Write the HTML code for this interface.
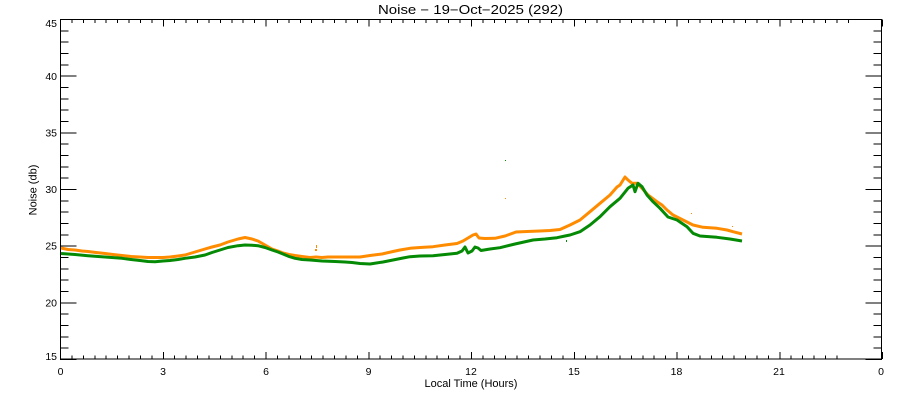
<!DOCTYPE html>
<html>
<head>
<meta charset="utf-8">
<style>
html,body{margin:0;padding:0;background:#fff;}
svg{display:block;}
text{font-family:"Liberation Sans",sans-serif;fill:#000;}
</style>
</head>
<body>
<svg width="900" height="400" viewBox="0 0 900 400" xmlns="http://www.w3.org/2000/svg">
<rect x="0" y="0" width="900" height="400" fill="#fff"/>

<!-- data -->
<polyline fill="none" stroke="#ff8c00" stroke-width="3" stroke-linejoin="round" points="61,248 68,249.5 75,250 82,251 88,251.5 96,252.5 105,253.5 113,254.5 122,255.5 131,256.5 140,257 148,257.5 155,257.5 163,257.5 170,257 178,256 185,255 190,253.5 195,252 200,250.5 205,249 212,247 220,245 228,242 238,239 245,237.5 252,239 258,241 265,245 272,249 278,251 283,253 289,254.5 295,255.5 302,256.5 310,257.5 316,257 322,257.5 328,257 335,257 343,257 352,257 360,257 370,255.5 382,254 393,251.5 400,250 410,248.3 420,247.5 433,246.7 445,245 457,243.5 463,241 468,238 473,235 476,234 479,238 485,238.5 495,238.3 505,236 516,232 527,231.5 540,231 550,230.5 560,229.5 570,225 580,220 590,211.7 600,203.3 610,195 617,187 620,185 625,177 628,180 632,183.3 637,183.3 642,188.3 648,195 657,201.7 662,205 667,210 673,215 683,220 693,225 703,227.3 717,228.3 727,230 733,231.7 742,234"/>
<polyline fill="none" stroke="#058a05" stroke-width="3" stroke-linejoin="round" points="61,253.5 68,254 75,254.5 88,255.7 105,257 122,258.3 131,259.5 140,260.5 148,261.5 155,261.7 163,261 170,260.5 178,259.5 185,258.3 195,257 205,255 212,252.5 220,250 228,247.5 238,245.7 245,245 252,245.3 258,245.7 265,247.5 272,250 278,252 283,254 289,256.5 295,258.3 302,259.5 310,260 322,261 335,261.5 345,262 352,262.5 360,263.5 370,264 383,262 393,260 403,258 410,256.7 420,256 433,255.7 445,254.5 457,253.3 462,251 465,247 468,253 472,251 475,247 478,248 481,250.5 490,249 500,247.7 515,244 533,240 545,239 557,237.7 565,236 570,235 580,231.7 590,225 600,216.7 610,206.7 620,198.3 628,188.3 633,185 635,191.7 638,183.3 642,186.7 647,195 653,201.7 660,208.3 668,217 677,220 687,226.7 693,233.3 700,236 717,237.3 730,239 742,241"/>
<!-- outliers -->
<rect x="505" y="160" width="1" height="1" fill="#058a05"/>
<rect x="505" y="198" width="1" height="1" fill="#ff8c00"/>
<rect x="316" y="245" width="1" height="3" fill="#ff8c00"/>
<rect x="315" y="249" width="2" height="2" fill="#ff8c00"/>
<rect x="566" y="240" width="1" height="2" fill="#058a05"/>
<rect x="691" y="213" width="1" height="1" fill="#ff8c00"/>
<rect x="732" y="226" width="1" height="1" fill="#ff8c00"/>

<!-- axes box -->
<rect x="60.5" y="19.5" width="821" height="339.5" fill="none" stroke="#000" stroke-width="1" shape-rendering="crispEdges"/>

<g stroke="#000" stroke-width="1" fill="none" shape-rendering="crispEdges">
<!-- bottom minor ticks -->
<path d="M60.5,359 v-3.5 m11.41667,3.5 v-3.5 m11.41667,3.5 v-3.5 m11.41667,3.5 v-3.5 m11.41667,3.5 v-3.5 m11.41667,3.5 v-3.5 m11.41667,3.5 v-3.5 m11.41667,3.5 v-3.5 m11.41667,3.5 v-3.5 m11.41667,3.5 v-3.5 m11.41667,3.5 v-3.5 m11.41667,3.5 v-3.5 m11.41667,3.5 v-3.5 m11.41667,3.5 v-3.5 m11.41667,3.5 v-3.5 m11.41667,3.5 v-3.5 m11.41667,3.5 v-3.5 m11.41667,3.5 v-3.5 m11.41667,3.5 v-3.5 m11.41667,3.5 v-3.5 m11.41667,3.5 v-3.5 m11.41667,3.5 v-3.5 m11.41667,3.5 v-3.5 m11.41667,3.5 v-3.5 m11.41667,3.5 v-3.5 m11.41667,3.5 v-3.5 m11.41667,3.5 v-3.5 m11.41667,3.5 v-3.5 m11.41667,3.5 v-3.5 m11.41667,3.5 v-3.5 m11.41667,3.5 v-3.5 m11.41667,3.5 v-3.5 m11.41667,3.5 v-3.5 m11.41667,3.5 v-3.5 m11.41667,3.5 v-3.5 m11.41667,3.5 v-3.5 m11.41667,3.5 v-3.5 m11.41667,3.5 v-3.5 m11.41667,3.5 v-3.5 m11.41667,3.5 v-3.5 m11.41667,3.5 v-3.5 m11.41667,3.5 v-3.5 m11.41667,3.5 v-3.5 m11.41667,3.5 v-3.5 m11.41667,3.5 v-3.5 m11.41667,3.5 v-3.5 m11.41667,3.5 v-3.5 m11.41667,3.5 v-3.5 m11.41667,3.5 v-3.5 m11.41667,3.5 v-3.5 m11.41667,3.5 v-3.5 m11.41667,3.5 v-3.5 m11.41667,3.5 v-3.5 m11.41667,3.5 v-3.5 m11.41667,3.5 v-3.5 m11.41667,3.5 v-3.5 m11.41667,3.5 v-3.5 m11.41667,3.5 v-3.5 m11.41667,3.5 v-3.5 m11.41667,3.5 v-3.5 m11.41667,3.5 v-3.5 m11.41667,3.5 v-3.5 m11.41667,3.5 v-3.5 m11.41667,3.5 v-3.5 m11.41667,3.5 v-3.5 m11.41667,3.5 v-3.5 m11.41667,3.5 v-3.5 m11.41667,3.5 v-3.5 m11.41667,3.5 v-3.5"/>
<!-- top minor ticks -->
<path d="M60.5,19.5 v3.5 m11.41667,-3.5 v3.5 m11.41667,-3.5 v3.5 m11.41667,-3.5 v3.5 m11.41667,-3.5 v3.5 m11.41667,-3.5 v3.5 m11.41667,-3.5 v3.5 m11.41667,-3.5 v3.5 m11.41667,-3.5 v3.5 m11.41667,-3.5 v3.5 m11.41667,-3.5 v3.5 m11.41667,-3.5 v3.5 m11.41667,-3.5 v3.5 m11.41667,-3.5 v3.5 m11.41667,-3.5 v3.5 m11.41667,-3.5 v3.5 m11.41667,-3.5 v3.5 m11.41667,-3.5 v3.5 m11.41667,-3.5 v3.5 m11.41667,-3.5 v3.5 m11.41667,-3.5 v3.5 m11.41667,-3.5 v3.5 m11.41667,-3.5 v3.5 m11.41667,-3.5 v3.5 m11.41667,-3.5 v3.5 m11.41667,-3.5 v3.5 m11.41667,-3.5 v3.5 m11.41667,-3.5 v3.5 m11.41667,-3.5 v3.5 m11.41667,-3.5 v3.5 m11.41667,-3.5 v3.5 m11.41667,-3.5 v3.5 m11.41667,-3.5 v3.5 m11.41667,-3.5 v3.5 m11.41667,-3.5 v3.5 m11.41667,-3.5 v3.5 m11.41667,-3.5 v3.5 m11.41667,-3.5 v3.5 m11.41667,-3.5 v3.5 m11.41667,-3.5 v3.5 m11.41667,-3.5 v3.5 m11.41667,-3.5 v3.5 m11.41667,-3.5 v3.5 m11.41667,-3.5 v3.5 m11.41667,-3.5 v3.5 m11.41667,-3.5 v3.5 m11.41667,-3.5 v3.5 m11.41667,-3.5 v3.5 m11.41667,-3.5 v3.5 m11.41667,-3.5 v3.5 m11.41667,-3.5 v3.5 m11.41667,-3.5 v3.5 m11.41667,-3.5 v3.5 m11.41667,-3.5 v3.5 m11.41667,-3.5 v3.5 m11.41667,-3.5 v3.5 m11.41667,-3.5 v3.5 m11.41667,-3.5 v3.5 m11.41667,-3.5 v3.5 m11.41667,-3.5 v3.5 m11.41667,-3.5 v3.5 m11.41667,-3.5 v3.5 m11.41667,-3.5 v3.5 m11.41667,-3.5 v3.5 m11.41667,-3.5 v3.5 m11.41667,-3.5 v3.5 m11.41667,-3.5 v3.5 m11.41667,-3.5 v3.5 m11.41667,-3.5 v3.5 m11.41667,-3.5 v3.5"/>
<!-- bottom/top major ticks -->
<path d="M60.5,359 v-7 m102.75,7 v-7 m102.75,7 v-7 m102.75,7 v-7 m102.75,7 v-7 m102.75,7 v-7 m102.75,7 v-7 m102.75,7 v-7 m102.75,7 v-7"/>
<path d="M60.5,19.5 v7 m102.75,-7 v7 m102.75,-7 v7 m102.75,-7 v7 m102.75,-7 v7 m102.75,-7 v7 m102.75,-7 v7 m102.75,-7 v7 m102.75,-7 v7"/>
<!-- left minor ticks -->
<path d="M60,359.5 h8.5 m-8.5,-11.3333 h8.5 m-8.5,-11.3333 h8.5 m-8.5,-11.3333 h8.5 m-8.5,-11.3333 h8.5 m-8.5,-11.3333 h8.5 m-8.5,-11.3333 h8.5 m-8.5,-11.3333 h8.5 m-8.5,-11.3333 h8.5 m-8.5,-11.3333 h8.5 m-8.5,-11.3333 h8.5 m-8.5,-11.3333 h8.5 m-8.5,-11.3333 h8.5 m-8.5,-11.3333 h8.5 m-8.5,-11.3333 h8.5 m-8.5,-11.3333 h8.5 m-8.5,-11.3333 h8.5 m-8.5,-11.3333 h8.5 m-8.5,-11.3333 h8.5 m-8.5,-11.3333 h8.5 m-8.5,-11.3333 h8.5 m-8.5,-11.3333 h8.5 m-8.5,-11.3333 h8.5 m-8.5,-11.3333 h8.5 m-8.5,-11.3333 h8.5 m-8.5,-11.3333 h8.5 m-8.5,-11.3333 h8.5 m-8.5,-11.3333 h8.5 m-8.5,-11.3333 h8.5 m-8.5,-11.3333 h8.5 m-8.5,-11.3333 h8.5"/>
<!-- right minor ticks -->
<path d="M882,359.5 h-8.5 m8.5,-11.3333 h-8.5 m8.5,-11.3333 h-8.5 m8.5,-11.3333 h-8.5 m8.5,-11.3333 h-8.5 m8.5,-11.3333 h-8.5 m8.5,-11.3333 h-8.5 m8.5,-11.3333 h-8.5 m8.5,-11.3333 h-8.5 m8.5,-11.3333 h-8.5 m8.5,-11.3333 h-8.5 m8.5,-11.3333 h-8.5 m8.5,-11.3333 h-8.5 m8.5,-11.3333 h-8.5 m8.5,-11.3333 h-8.5 m8.5,-11.3333 h-8.5 m8.5,-11.3333 h-8.5 m8.5,-11.3333 h-8.5 m8.5,-11.3333 h-8.5 m8.5,-11.3333 h-8.5 m8.5,-11.3333 h-8.5 m8.5,-11.3333 h-8.5 m8.5,-11.3333 h-8.5 m8.5,-11.3333 h-8.5 m8.5,-11.3333 h-8.5 m8.5,-11.3333 h-8.5 m8.5,-11.3333 h-8.5 m8.5,-11.3333 h-8.5 m8.5,-11.3333 h-8.5 m8.5,-11.3333 h-8.5 m8.5,-11.3333 h-8.5"/>
<!-- left/right major ticks -->
<path d="M60,359.5 h16.5 m-16.5,-56.6667 h16.5 m-16.5,-56.6667 h16.5 m-16.5,-56.6667 h16.5 m-16.5,-56.6667 h16.5 m-16.5,-56.6667 h16.5 m-16.5,-56.6667 h16.5"/>
<path d="M882,359.5 h-16.5 m16.5,-56.6667 h-16.5 m16.5,-56.6667 h-16.5 m16.5,-56.6667 h-16.5 m16.5,-56.6667 h-16.5 m16.5,-56.6667 h-16.5 m16.5,-56.6667 h-16.5"/>
</g>

<!-- y tick labels -->
<g font-size="10.5" text-anchor="end">
<text x="57" y="27">45</text>
<text x="57" y="80">40</text>
<text x="57" y="136.5">35</text>
<text x="57" y="193">30</text>
<text x="57" y="249.5">25</text>
<text x="57" y="306.5">20</text>
<text x="57" y="360">15</text>
</g>

<!-- x tick labels -->
<g font-size="10.5" text-anchor="middle">
<text x="60.5" y="375">0</text>
<text x="163" y="375">3</text>
<text x="266" y="375">6</text>
<text x="368.5" y="375">9</text>
<text x="471" y="375">12</text>
<text x="574" y="375">15</text>
<text x="676.5" y="375">18</text>
<text x="779" y="375">21</text>
<text x="881" y="375">0</text>
</g>

<!-- titles -->
<text x="378" y="14" font-size="12.5" textLength="185" lengthAdjust="spacingAndGlyphs">Noise − 19−Oct−2025 (292)</text>
<text x="471" y="387" font-size="11" text-anchor="middle">Local Time (Hours)</text>
<text transform="translate(36.5,190) rotate(-90)" font-size="11" text-anchor="middle">Noise (db)</text>
</svg>
</body>
</html>
